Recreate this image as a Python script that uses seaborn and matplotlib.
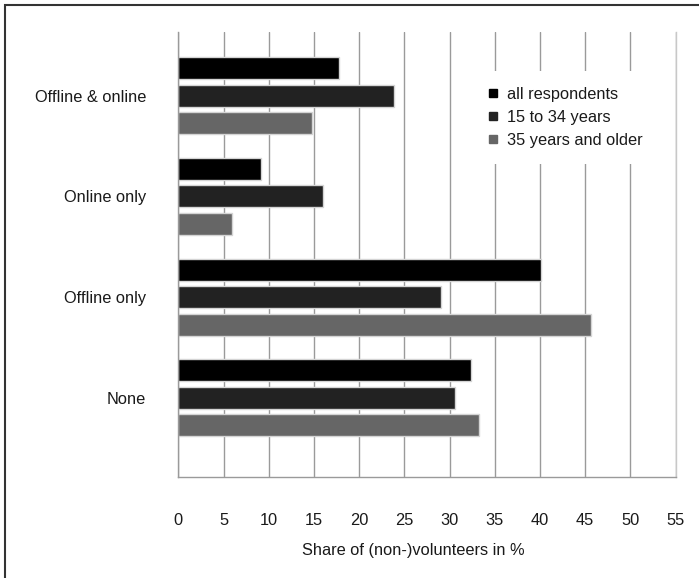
import numpy as np
import pandas as pd
import matplotlib
matplotlib.use("Agg")
import matplotlib.pyplot as plt
import seaborn as sns
from matplotlib.lines import Line2D
from matplotlib.patches import Rectangle

# ---- data ----
categories = ["Offline & online", "Online only", "Offline only", "None"]
groups = ["all respondents", "15 to 34 years", "35 years and older"]
all_respondents = [17.8, 9.2, 40.1, 32.4]
age_15_34 = [23.9, 16.0, 29.1, 30.6]
age_35_plus = [14.8, 5.9, 45.6, 33.3]
x_ticks = [0, 5, 10, 15, 20, 25, 30, 35, 40, 45, 50, 55]
x_label = "Share of (non-)volunteers in %"
colors = ["#000000", "#222222", "#666666"]

series = [all_respondents, age_15_34, age_35_plus]
rows = []
for g, vals in zip(groups, series):
    for c, v in zip(categories, vals):
        rows.append({"Category": c, "Group": g, "Share": v})
df = pd.DataFrame(rows)

sns.set_theme(style="white")
plt.rcParams["font.family"] = ["Liberation Sans", "DejaVu Sans"]

W, H = 699, 578
fig = plt.figure(figsize=(W / 100, H / 100), dpi=100)
ax_l, ax_r, ax_t, ax_b = 178.3, 675.5, 32.0, 476.7
ax = fig.add_axes([ax_l / W, 1 - ax_b / H, (ax_r - ax_l) / W, (ax_b - ax_t) / H])

sns.barplot(data=df, y="Category", x="Share", hue="Group", order=categories,
            hue_order=groups, palette=colors, orient="h", width=0.82, gap=0.2,
            edgecolor="#d4d4d4", linewidth=1, saturation=1, errorbar=None,
            legend=False, ax=ax)

ax.set_xlim(0, 55)
ax.set_ylim(3.785, -0.633)
ax.set_xticks(x_ticks)
ax.set_xticklabels([str(t) for t in x_ticks])
ax.set_axisbelow(True)
ax.grid(axis="x", color="#9a9a9a", linewidth=1)
ax.grid(axis="y", visible=False)
ax.set_xlabel("")
ax.set_ylabel("")
ax.spines["top"].set_visible(False)
ax.spines["left"].set_color("#9a9a9a")
ax.spines["bottom"].set_color("#9a9a9a")
ax.spines["right"].set_color("#c8c8c8")
for s in ["left", "bottom", "right"]:
    ax.spines[s].set_linewidth(1)
ax.tick_params(axis="x", length=0, pad=26, labelsize=11.8, labelcolor="#1a1a1a")
ax.tick_params(axis="y", length=0, pad=23, labelsize=11.8, labelcolor="#1a1a1a")

handles = [Line2D([], [], marker="s", ls="", color=c, markersize=6) for c in colors]
leg = ax.legend(handles, groups, loc="upper left",
                bbox_to_anchor=((471.7 - ax_l) / (ax_r - ax_l), 1 - (70.7 - ax_t) / (ax_b - ax_t)),
                frameon=True, facecolor="white", edgecolor="none", framealpha=1,
                fancybox=False, fontsize=11.8, handlelength=0.6, handletextpad=0.54,
                labelspacing=0.48, borderpad=1.0, borderaxespad=0)
for t in leg.get_texts():
    t.set_color("#1a1a1a")

fig.text(413 / W, 1 - 550 / H, x_label, ha="center", va="center",
         fontsize=11.8, color="#1a1a1a")

# outer frame (top and left edges visible)
fig.patches.append(Rectangle((5.3 / W, -0.2), 1.5, 1 - 4.7 / H + 0.2,
                             transform=fig.transFigure, fill=False,
                             edgecolor="#333333", linewidth=1.5))

fig.savefig("out.png", dpi=100, facecolor="white")
